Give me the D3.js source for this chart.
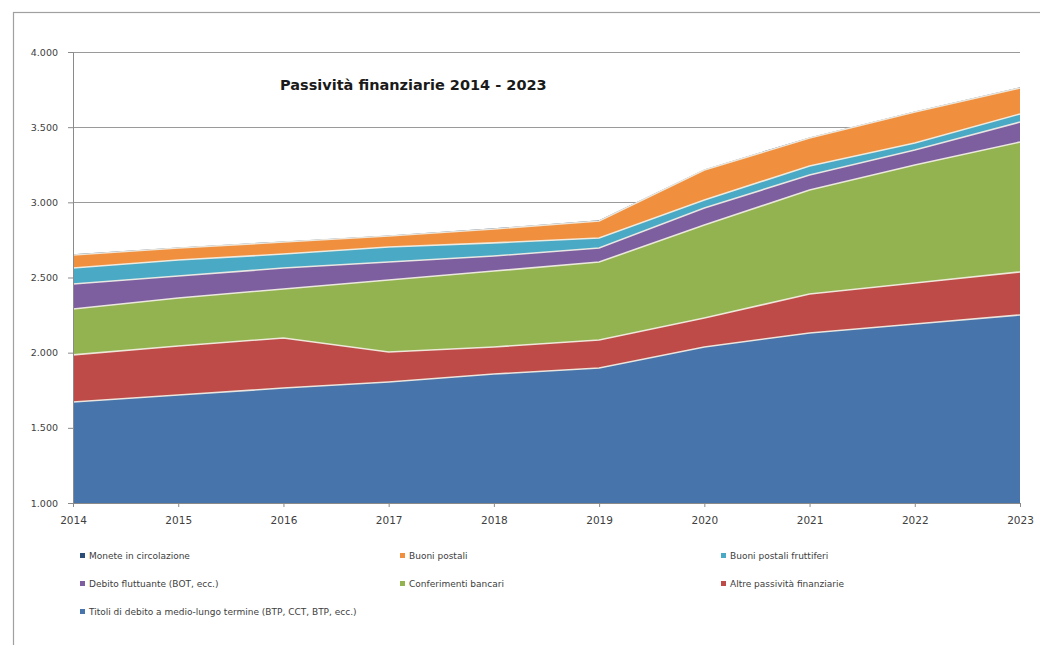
<!DOCTYPE html>
<html>
<head>
<meta charset="utf-8">
<script src="https://cdn.jsdelivr.net/npm/d3@7"></script>
<style>
  html, body { margin: 0; padding: 0; background: #fff; }
  svg { display: block; }
  text { font-family: "DejaVu Sans", "Liberation Sans", Arial, sans-serif; }
</style>
</head>
<body>
<svg id="chart" width="1040" height="645"></svg>
<script>
// ---- data ----
const years = ["2014","2015","2016","2017","2018","2019","2020","2021","2022","2023"];
// series in stacking order (bottom -> top)
const seriesNames = [
  "Titoli di debito a medio-lungo termine (BTP, CCT, BTP, ecc.)",
  "Altre passività finanziarie",
  "Conferimenti bancari",
  "Debito fluttuante (BOT, ecc.)",
  "Buoni postali fruttiferi",
  "Buoni postali",
  "Monete in circolazione"
];
const titoli      = [1672, 1718, 1765, 1805, 1858, 1898, 2038, 2131, 2191, 2251];
const altre       = [ 313,  326,  333,  199,  180,  186,  193,  259,  272,  286];
const conferim    = [ 305,  320,  326,  479,  505,  519,  618,  692,  785,  864];
const fluttuante  = [ 167,  146,  139,  120,  100,   93,  113,  100,  100,  133];
const buoniFrutt  = [ 106,  106,   93,  100,   87,   67,   54,   60,   47,   54];
const buoni       = [  87,   80,   80,   73,   93,  113,  199,  186,  206,  173];
const monete      = [   4,    4,    4,    4,    4,    4,    4,    4,    4,    4];
const seriesValues = [titoli, altre, conferim, fluttuante, buoniFrutt, buoni, monete];
const yTicks = [1000, 1500, 2000, 2500, 3000, 3500, 4000];
// legend order (as shown, row by row)
const legendOrder = [6, 5, 4, 3, 2, 1, 0];
const title = "Passività finanziarie 2014 - 2023";

// ---- styles ----
const colors = ["#4674AB", "#BE4B48", "#93B350", "#7D5FA0", "#4AA9C5", "#F0903F", "#2C4D75"];
const plot = { left: 73, right: 1020, top: 52, bottom: 503 };

const svg = d3.select("#chart");

// outer frame
svg.append("rect").attr("x", 13.5).attr("y", 12.5).attr("width", 1040).attr("height", 650)
  .attr("fill", "none").attr("stroke", "#a0a0a0").attr("stroke-width", 1.2);

const x = d3.scalePoint().domain(years).range([plot.left, plot.right]);
const y = d3.scaleLinear().domain([1000, 4000]).range([plot.bottom, plot.top]);

const itFmt = d3.formatLocale({ decimal: ",", thousands: ".", grouping: [3], currency: ["€", ""] }).format(",.0f");

// gridlines
svg.append("g").selectAll("line").data(yTicks.slice(1)).join("line")
  .attr("x1", plot.left).attr("x2", plot.right)
  .attr("y1", d => Math.round(y(d)) + 0.5).attr("y2", d => Math.round(y(d)) + 0.5)
  .attr("stroke", "#9a9a9a").attr("stroke-width", 1);

// stacked data
const table = years.map((yr, i) => {
  const o = { year: yr };
  seriesNames.forEach((n, k) => o[n] = seriesValues[k][i]);
  return o;
});
const layers = d3.stack().keys(seriesNames)(table);

const area = d3.area()
  .x(d => x(d.data.year))
  .y0(d => y(Math.max(1000, d[0])))
  .y1(d => y(d[1]));
const topLine = d3.line().x(d => x(d.data.year)).y(d => y(d[1]));

const gAreas = svg.append("g");
gAreas.selectAll("path.area").data(layers).join("path")
  .attr("class", "area")
  .attr("d", d => area(d))
  .attr("fill", (d, i) => colors[i]);

// light borders on top of each layer
gAreas.selectAll("path.edge").data(layers.slice(0, 6)).join("path")
  .attr("class", "edge")
  .attr("d", d => topLine(d))
  .attr("fill", "none")
  .attr("stroke", "#f4efe6").attr("stroke-width", 1.6).attr("opacity", 0.9);

// y axis
const yAxis = d3.axisLeft(y).tickValues(yTicks).tickFormat(itFmt).tickSize(5).tickPadding(10);
const gy = svg.append("g").attr("transform", `translate(${plot.left},0)`).call(yAxis);
gy.select(".domain").attr("stroke", "#8a8a8a");
gy.selectAll(".tick line").attr("stroke", "#8a8a8a");
gy.selectAll("text").attr("font-size", 9.5).attr("fill", "#404040");

// x axis
const xAxis = d3.axisBottom(x).tickSize(4).tickPadding(10);
const gx = svg.append("g").attr("transform", `translate(0,${plot.bottom})`).call(xAxis);
gx.select(".domain").attr("stroke", "#8a8a8a");
gx.selectAll(".tick line").attr("stroke", "#8a8a8a");
gx.selectAll("text").attr("font-size", 10.5).attr("fill", "#404040")
  .attr("font-family", "'DejaVu Serif', 'Liberation Serif', serif");

// title
svg.append("text").attr("x", 280).attr("y", 90)
  .attr("font-size", 14.5).attr("font-weight", "bold").attr("fill", "#1a1a1a")
  .text(title);

// legend
const colX = [80, 400, 721];
const rowY = [556, 584, 612];
const gl = svg.append("g");
legendOrder.forEach((k, i) => {
  const cx = colX[i % 3], cy = rowY[Math.floor(i / 3)];
  gl.append("rect").attr("x", cx).attr("y", cy - 3).attr("width", 5).attr("height", 5)
    .attr("fill", colors[k]);
  gl.append("text").attr("x", cx + 9).attr("y", cy + 3)
    .attr("font-size", 9).attr("fill", "#404040").text(seriesNames[k]);
});
</script>
</body>
</html>
